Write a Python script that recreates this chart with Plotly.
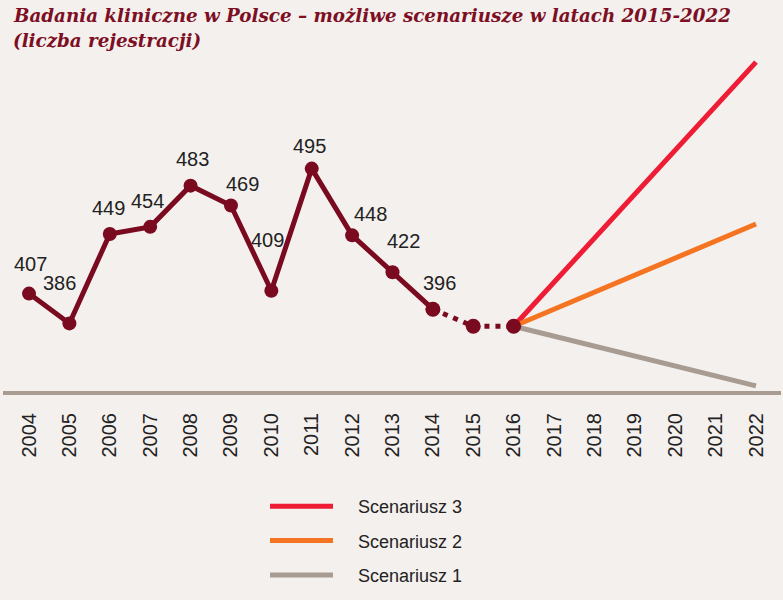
import plotly.graph_objects as go

years_hist = [2004, 2005, 2006, 2007, 2008, 2009, 2010, 2011, 2012, 2013, 2014]
values_hist = [407, 386, 449, 454, 483, 469, 409, 495, 448, 422, 396]
years_est = [2014, 2015, 2016]
values_est = [396, 384, 384]
scen_years = [2016, 2022]
scen1 = [384, 342]
scen2 = [384, 456]
scen3 = [384, 570]
tick_years = list(range(2004, 2023))
label_dx = [1, -10, -1, -3, 2, 12, -4, -2, 18, 11, 7]
label_dy = [30, 40, 26, 26, 27, 22, 51, 23, 21, 31, 26]
title_lines = ["Badania kliniczne w Polsce – możliwe scenariusze w latach 2015-2022",
               "(liczba rejestracji)"]

MAROON = "#7a0a1f"
BG = "#f4f0ed"
PAD = "\u00a0\u00a0\u00a0\u00a0"

fig = go.Figure()

fig.add_trace(go.Scatter(x=scen_years, y=scen3, mode="lines", name=PAD + "Scenariusz 3",
                         line=dict(color="#ee1c35", width=5), legendgroup="s3", legendrank=1))
fig.add_trace(go.Scatter(x=scen_years, y=scen2, mode="lines", name=PAD + "Scenariusz 2",
                         line=dict(color="#f47421", width=5), legendgroup="s2", legendrank=2))
fig.add_trace(go.Scatter(x=scen_years, y=scen1, mode="lines", name=PAD + "Scenariusz 1",
                         line=dict(color="#a89c92", width=5), legendgroup="s1", legendrank=3))

fig.add_trace(go.Scatter(x=years_est, y=values_est, mode="lines+markers", showlegend=False,
                         line=dict(color=MAROON, width=5, dash="5px,6px"),
                         marker=dict(size=15, color=MAROON)))
fig.add_trace(go.Scatter(x=years_hist, y=values_hist, mode="lines+markers", showlegend=False,
                         line=dict(color=MAROON, width=5),
                         marker=dict(size=14, color=MAROON)))

for x, y, dx, dy in zip(years_hist, values_hist, label_dx, label_dy):
    fig.add_annotation(x=x, y=y, text=str(y), showarrow=False, xshift=dx, yshift=dy,
                       font=dict(family="Liberation Sans, Arial", size=20, color="#222222"))

for i, (line, py) in enumerate(zip(title_lines, [15, 40])):
    fig.add_annotation(xref="paper", yref="paper", x=(11 - 3) / 778, y=(393 - py) / 338,
                       xanchor="left", yanchor="middle", showarrow=False,
                       text="<b><i>" + line + "</i></b>",
                       font=dict(family="DejaVu Serif, serif", size=18.3,
                                 color="#7d0f24"))

fig.update_layout(
    width=783, height=600,
    paper_bgcolor=BG, plot_bgcolor=BG,
    margin=dict(l=3, r=2, t=55, b=207, autoexpand=False),
    xaxis=dict(range=[2003.356, 2022.619], tickmode="array", tickvals=tick_years,
               ticktext=[str(t) for t in tick_years], tickangle=-90, ticklabelstandoff=15,
               tickfont=dict(family="Liberation Sans, Arial", size=20, color="#222222"),
               showgrid=False, zeroline=False, showline=False, ticks=""),
    yaxis=dict(range=[337, 575], showgrid=False, zeroline=False, showticklabels=False,
               showline=False, ticks=""),
    legend=dict(x=(265 - 3) / 778, xanchor="left", xref="paper",
                y=(393 - 488) / 338, yanchor="top", yref="paper",
                font=dict(family="Liberation Sans, Arial", size=18, color="#222222"),
                bgcolor="rgba(0,0,0,0)", itemwidth=63, tracegroupgap=8, traceorder="grouped"),
    showlegend=True,
)
fig.add_shape(type="line", xref="paper", yref="paper", x0=0, x1=1, y0=0, y1=0,
              line=dict(color="#a89c92", width=4), layer="below")

fig.write_html("out.html")
